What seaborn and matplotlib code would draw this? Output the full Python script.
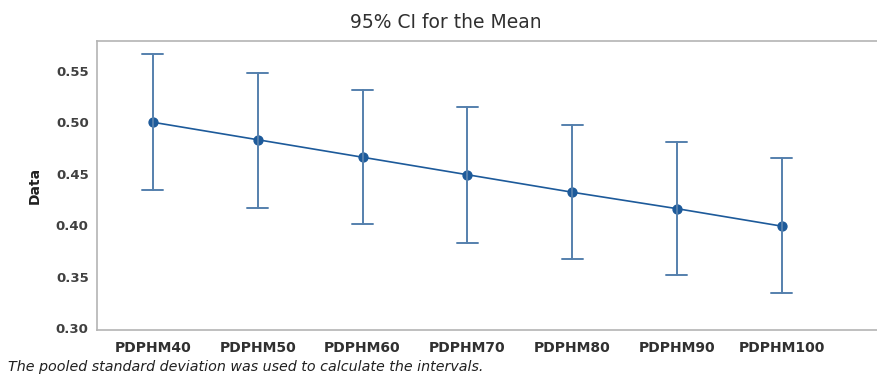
import matplotlib
matplotlib.use("Agg")
import matplotlib.pyplot as plt
import seaborn as sns
import pandas as pd

categories = ["PDPHM40", "PDPHM50", "PDPHM60", "PDPHM70", "PDPHM80", "PDPHM90", "PDPHM100"]
means = [0.500, 0.483, 0.466, 0.449, 0.432, 0.416, 0.399]
lower = [0.434, 0.417, 0.401, 0.383, 0.367, 0.351, 0.334]
upper = [0.566, 0.548, 0.531, 0.515, 0.497, 0.481, 0.465]
yticks = [0.30, 0.35, 0.40, 0.45, 0.50, 0.55]

# long table: mean of (lower, adj, upper) equals the CI mean; 100% interval spans lower..upper
rows = []
for c, lo, m, hi in zip(categories, lower, means, upper):
    m_adj = 3 * m - lo - hi
    for v in (lo, m_adj, hi):
        rows.append({"group": c, "Data": v})
df = pd.DataFrame(rows)

sns.set_style("white")
plt.rcParams["font.family"] = ["DejaVu Sans"]

fig = plt.figure(figsize=(8.78, 3.78), dpi=100)
ax = fig.add_axes([97 / 878, 1 - 330 / 378, 1 - 97 / 878, (330 - 41) / 378])

sns.pointplot(data=df, x="group", y="Data", order=categories,
              estimator="mean", errorbar=("pi", 100),
              color="#1d5a9a", markers="o", markersize=6.5,
              linewidth=1.2, capsize=0.2,
              err_kws={"color": "#5580ad", "linewidth": 1.4},
              ax=ax)

ax.set_xlim(-0.534, 6.92)
ax.set_ylim(0.298, 0.579)
ax.set_yticks(yticks)
ax.set_yticklabels([f"{t:.2f}" for t in yticks])
ax.set_xlabel("")
ax.set_ylabel("Data", fontsize=10, fontweight="bold", labelpad=10, color="#202020")

for s in ["left", "bottom", "top"]:
    ax.spines[s].set_color("#b4b4b4")
    ax.spines[s].set_linewidth(1.2)
ax.spines["right"].set_visible(False)

ax.tick_params(axis="both", which="major", direction="out", length=3,
               color="#b4b4b4", width=1)
ax.tick_params(axis="y", labelsize=9.5, labelcolor="#404040", pad=3)
ax.tick_params(axis="x", labelsize=10, labelcolor="#303030", pad=5)
for t in ax.get_xticklabels() + ax.get_yticklabels():
    t.set_fontweight("bold")

fig.text(446 / 878, 1 - 22 / 378, "95% CI for the Mean", ha="center", va="center",
         fontsize=13.5, color="#303030")
fig.text(8 / 878, 1 - 367 / 378,
         "The pooled standard deviation was used to calculate the intervals.",
         ha="left", va="center", fontsize=10.3, style="italic", color="#202020")

fig.savefig("out.png", dpi=100)
